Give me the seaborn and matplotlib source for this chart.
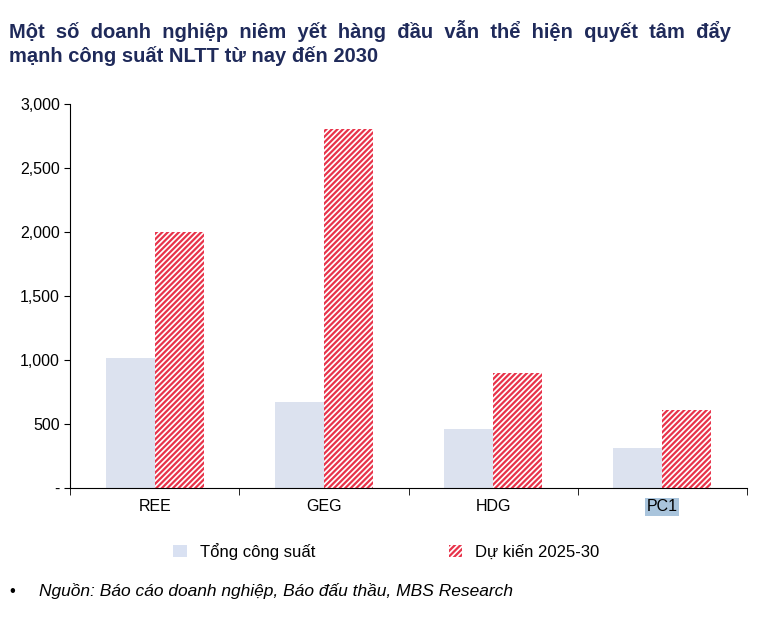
import matplotlib
matplotlib.use("Agg")
import matplotlib.pyplot as plt
import seaborn as sns
import pandas as pd
from matplotlib.patches import Patch

companies = ["REE", "GEG", "HDG", "PC1"]
tong_cong_suat = [1020, 670, 460, 310]
du_kien = [2000, 2800, 900, 610]
series_names = ["Tổng công suất", "Dự kiến 2025-30"]

df = pd.DataFrame({
    "company": companies * 2,
    "value": tong_cong_suat + du_kien,
    "series": [series_names[0]] * 4 + [series_names[1]] * 4,
})

plt.rcParams["font.family"] = "Liberation Sans"
plt.rcParams["hatch.color"] = "#E8334A"
plt.rcParams["hatch.linewidth"] = 1.6

fig = plt.figure(figsize=(7.73, 6.18), dpi=100)
ax = fig.add_axes([0.091, 0.21, 0.875, 0.622])

sns.barplot(data=df, x="company", y="value", hue="series", ax=ax,
            palette=["#D9E1F2", "white"], width=0.58, gap=0.0, legend=False)

for bar in ax.patches[4:8]:
    bar.set_hatch("//////")
    bar.set_edgecolor("#E8334A")
    bar.set_linewidth(0)

ax.set_ylim(0, 3000)
ax.set_yticks(range(0, 3001, 500))
ax.set_yticklabels(["-", "500", "1,000", "1,500", "2,000", "2,500", "3,000"])
ax.set_xlabel("")
ax.set_ylabel("")
for s in ["top", "right"]:
    ax.spines[s].set_visible(False)
ax.tick_params(axis="both", labelsize=11.5, length=4, direction="out")
ax.set_xticks([-0.5, 0.5, 1.5, 2.5, 3.5], minor=True)
ax.tick_params(axis="x", which="major", length=0, pad=8)
ax.tick_params(axis="x", which="minor", length=5)
ax.get_xticklabels()[3].set_bbox(dict(facecolor="#A9C4DC", edgecolor="none", pad=1))

fig.text(0.012, 0.968, "Một  số  doanh  nghiệp  niêm  yết  hàng  đầu  vẫn  thể  hiện  quyết  tâm  đẩy",
         fontsize=14.5, fontweight="bold", color="#1F2A5A", va="top")
fig.text(0.012, 0.925, "mạnh công suất NLTT từ nay đến 2030",
         fontsize=14.5, fontweight="bold", color="#1F2A5A", va="top")

handles = [Patch(facecolor="#D9E1F2", edgecolor="none"),
           Patch(facecolor="white", edgecolor="#E8334A", hatch="//////", linewidth=0)]
fig.legend(handles, series_names, loc="center", bbox_to_anchor=(0.5, 0.108), ncol=2,
           frameon=False, fontsize=12, handlelength=0.8, handleheight=0.8, columnspacing=8)

fig.text(0.012, 0.03, "•", fontsize=12, va="bottom")
fig.text(0.05, 0.03, "Nguồn: Báo cáo doanh nghiệp, Báo đấu thầu, MBS Research",
         fontsize=12.5, style="italic", va="bottom")

fig.savefig("out.png", dpi=100)
